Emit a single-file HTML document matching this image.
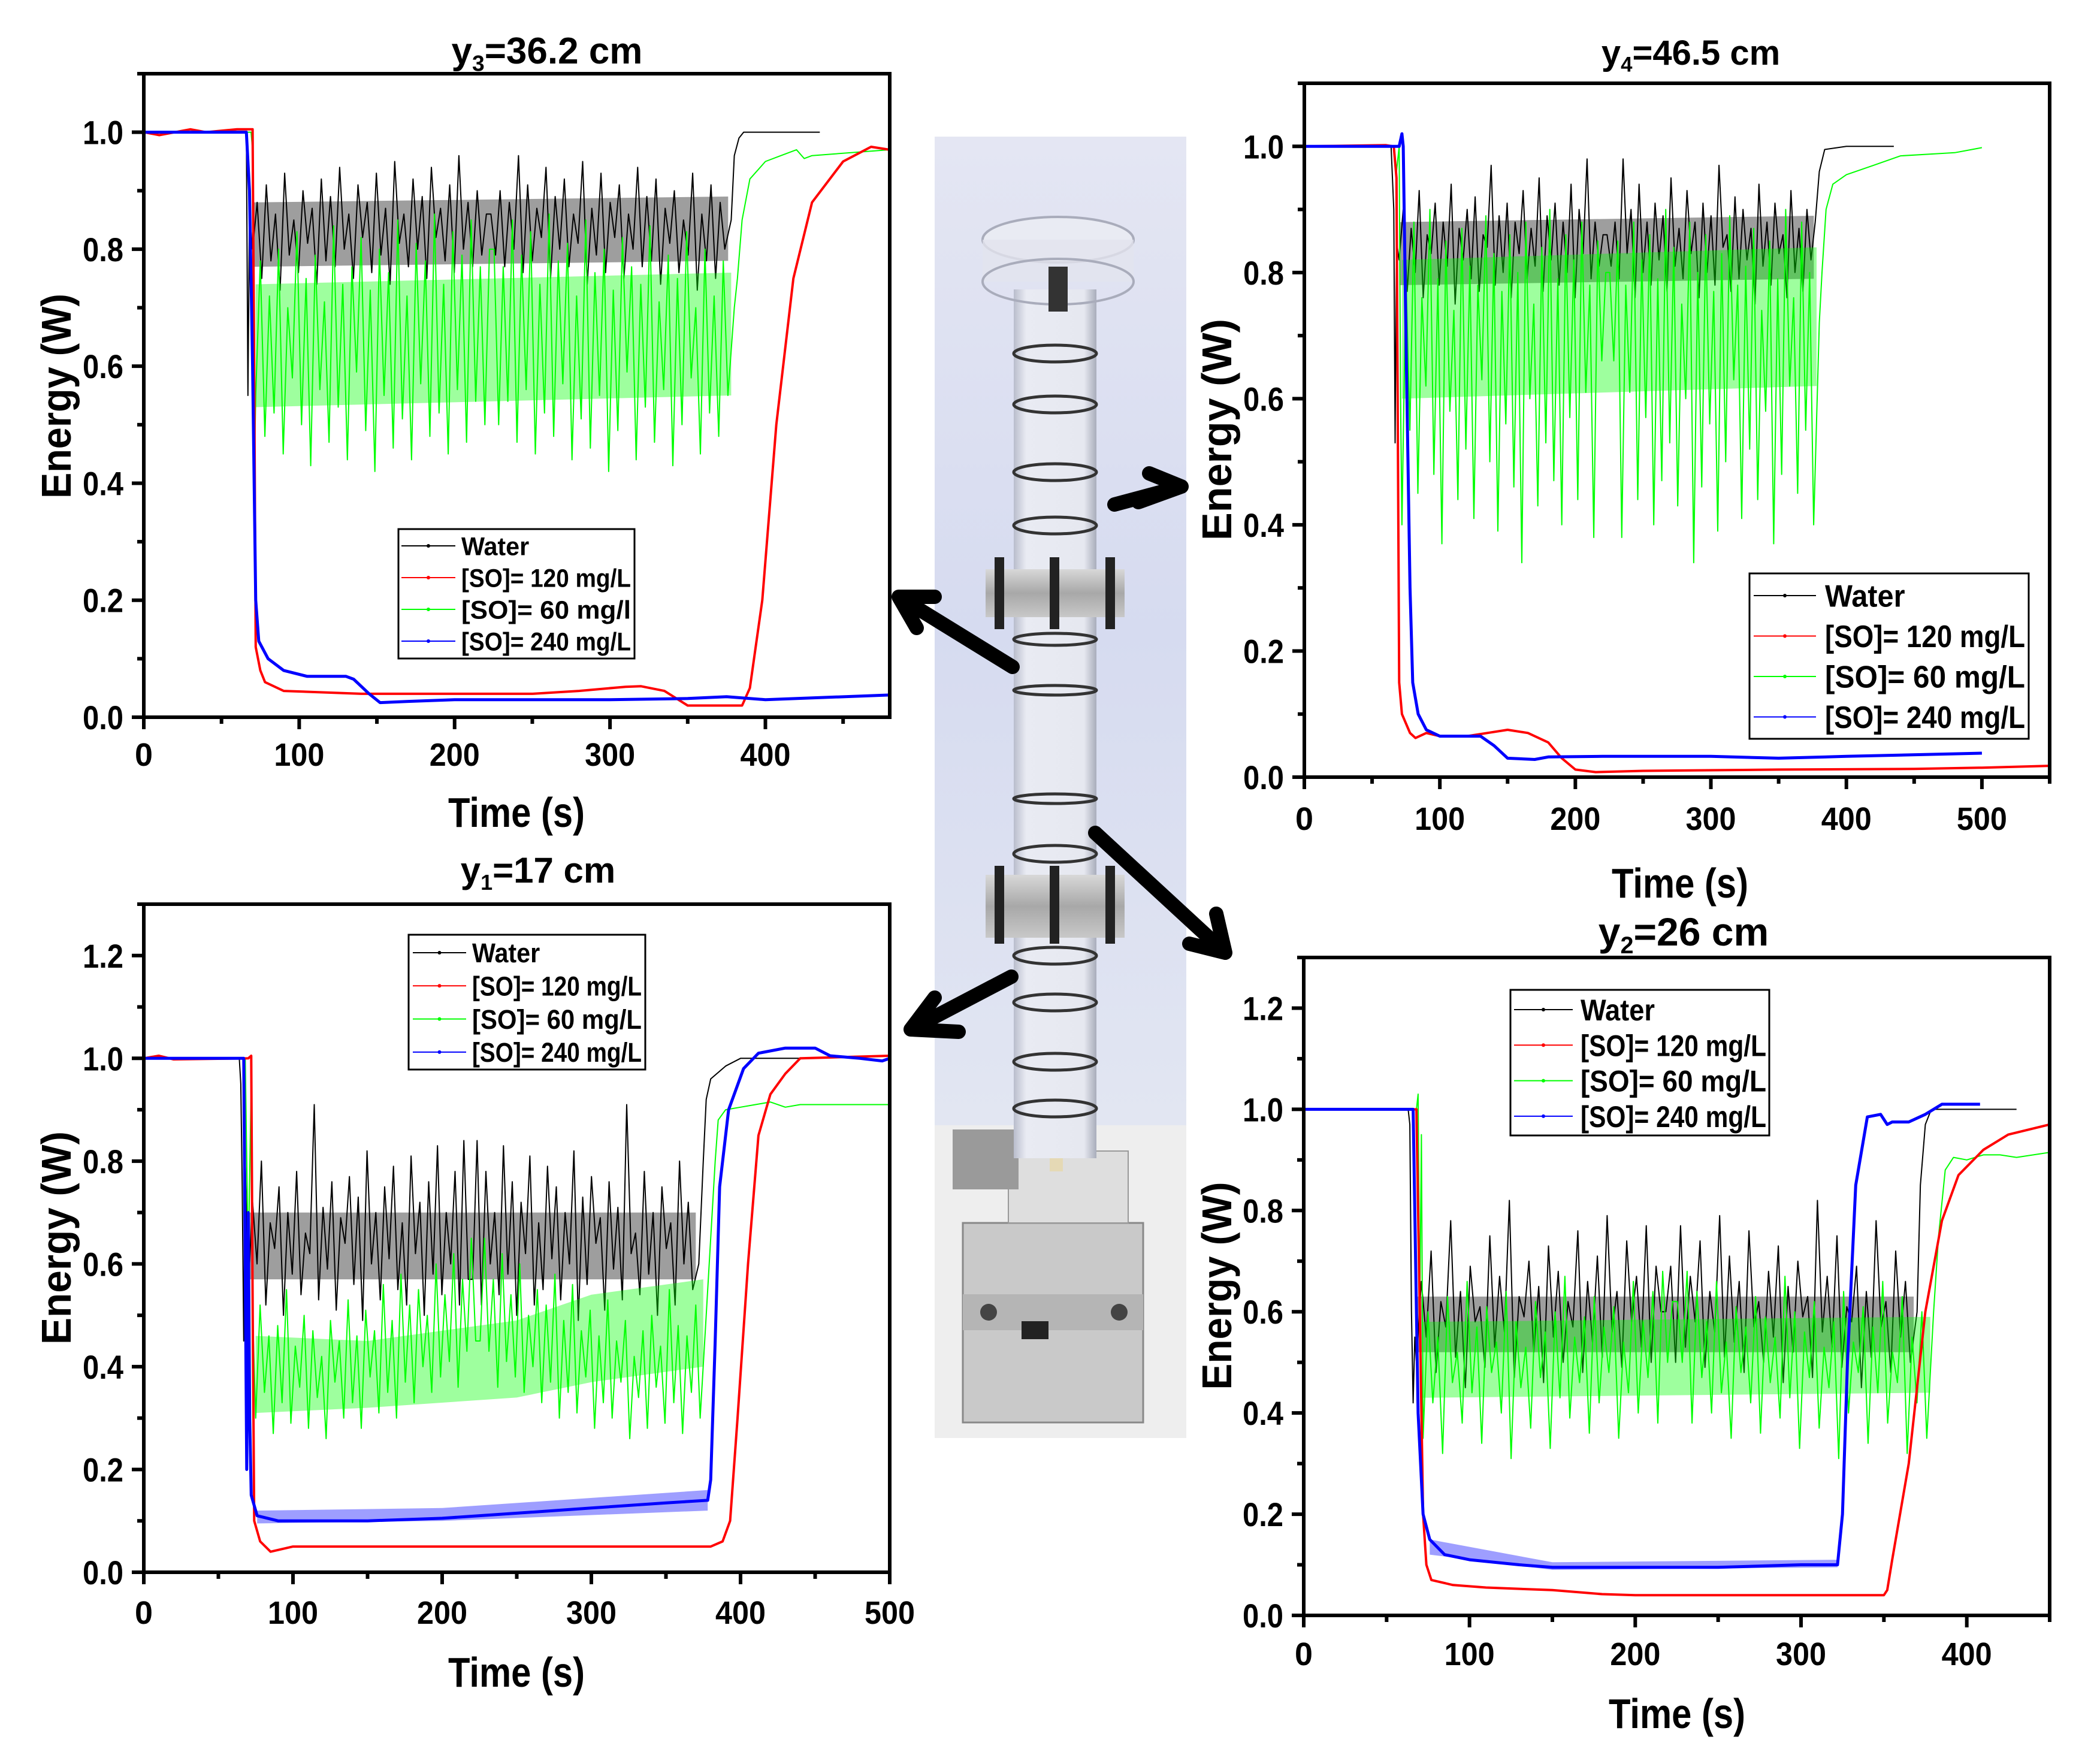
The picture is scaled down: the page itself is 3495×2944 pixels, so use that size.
<!DOCTYPE html>
<html><head><meta charset="utf-8"><title>Energy vs time at four column heights</title>
<style>
html,body{margin:0;padding:0;background:#fff;}
svg{display:block;font-family:"Liberation Sans",Arial,sans-serif;}
</style></head>
<body>
<svg id="fig" width="3495" height="2944" viewBox="0 0 3495 2944" xmlns="http://www.w3.org/2000/svg">
<defs>
<linearGradient id="bg" x1="0" y1="0" x2="0" y2="1">
<stop offset="0" stop-color="#e4e6f3"/><stop offset="0.5" stop-color="#d6dbf0"/><stop offset="1" stop-color="#e2e6f2"/>
</linearGradient>
<linearGradient id="glass" x1="0" y1="0" x2="1" y2="0">
<stop offset="0" stop-color="#b9bdcc"/><stop offset="0.15" stop-color="#e9ebf3"/><stop offset="0.85" stop-color="#e6e8f0"/><stop offset="1" stop-color="#a9adbb"/>
</linearGradient>
<linearGradient id="metal" x1="0" y1="0" x2="0" y2="1">
<stop offset="0" stop-color="#d8d8d8"/><stop offset="0.5" stop-color="#a8a8a8"/><stop offset="1" stop-color="#c8c8c8"/>
</linearGradient>
</defs>
<g id="photo">
<rect x="1560" y="228" width="420" height="1650" fill="url(#bg)"/>
<rect x="1560" y="1878" width="420" height="522" fill="#eeeeee"/>
<rect x="1607" y="2041" width="301" height="333" fill="#c9c9c9" stroke="#888" stroke-width="3"/>
<rect x="1607" y="2160" width="301" height="60" fill="#b5b5b5"/>
<circle cx="1650" cy="2190" r="14" fill="#444"/><circle cx="1868" cy="2190" r="14" fill="#444"/>
<rect x="1705" y="2205" width="45" height="30" fill="#222"/>
<rect x="1683" y="1921" width="200" height="120" fill="#dedede" stroke="#999" stroke-width="2"/>
<rect x="1590" y="1885" width="110" height="100" fill="#9a9a9a"/>
<rect x="1752" y="1905" width="22" height="50" fill="#e5d9b5"/>
<rect x="1692" y="483" width="138" height="1450" fill="url(#glass)"/>
<ellipse cx="1766" cy="400" rx="126" ry="38" fill="#e9ebf3" stroke="#a9acbb" stroke-width="4"/>
<rect x="1640" y="400" width="252" height="70" fill="#e2e4ee" opacity="0.8"/>
<ellipse cx="1766" cy="470" rx="126" ry="38" fill="none" stroke="#a9acbb" stroke-width="4"/>
<rect x="1750" y="445" width="32" height="75" fill="#333"/>
<rect x="1645" y="950" width="232" height="80" fill="url(#metal)"/>
<rect x="1645" y="1460" width="232" height="105" fill="url(#metal)"/>
<g fill="#222">
<rect x="1660" y="930" width="16" height="120"/><rect x="1752" y="930" width="16" height="120"/><rect x="1845" y="930" width="16" height="120"/>
<rect x="1660" y="1445" width="16" height="130"/><rect x="1752" y="1445" width="16" height="130"/><rect x="1845" y="1445" width="16" height="130"/>
</g>
<g fill="none" stroke="#333" stroke-width="5">
<ellipse cx="1761" cy="590" rx="69" ry="14"/><ellipse cx="1761" cy="675" rx="69" ry="14"/>
<ellipse cx="1761" cy="788" rx="69" ry="14"/><ellipse cx="1761" cy="877" rx="69" ry="14"/>
<ellipse cx="1761" cy="1067" rx="69" ry="10"/><ellipse cx="1761" cy="1152" rx="69" ry="8"/>
<ellipse cx="1761" cy="1333" rx="69" ry="8"/><ellipse cx="1761" cy="1425" rx="69" ry="14"/>
<ellipse cx="1761" cy="1595" rx="69" ry="14"/><ellipse cx="1761" cy="1673" rx="69" ry="14"/>
<ellipse cx="1761" cy="1772" rx="69" ry="14"/><ellipse cx="1761" cy="1850" rx="69" ry="14"/>
</g>
</g>
<g id="arrows" stroke="#000" stroke-width="24" fill="none" stroke-linecap="round">
<path d="M1690 1113 L1500 996 M1500 996 L1560 996 M1500 996 L1530 1048"/>
<path d="M1860 842 L1972 812 M1972 812 L1918 790 M1972 812 L1900 838"/>
<path d="M1828 1390 L2045 1590 M2045 1590 L2030 1525 M2045 1590 L1985 1575"/>
<path d="M1688 1630 L1520 1718 M1520 1718 L1560 1665 M1520 1718 L1600 1722"/>
</g>
<g id="charts"></g>
</svg>
<script>
// ---------- y3 = 36.2 cm (top-left) ----------
const tlWaterPreT=[0,30,66,67,68], tlWaterPreV=[1.0,1.0,1.0,0.55,0.86];
const tlWaterNoise=[0.80,0.88,0.75,0.91,0.78,0.86,0.73,0.93,0.79,0.85,0.76,0.90,0.81,0.87,0.74,0.92,0.78,0.89,0.77,0.94,0.80,0.86,0.75,0.91,0.82,0.88,0.76,0.93,0.79,0.87,0.74,0.95,0.81,0.86,0.77,0.92,0.80,0.89,0.75,0.94,0.82,0.87,0.78,0.91,0.76,0.96,0.80,0.88,0.77,0.90,0.79,0.86];
const tlWaterPostT=[378,380,383,386,435], tlWaterPostV=[0.85,0.96,0.99,1.0,1.0];
const tlWaterBandT=[70,376], tlWaterBandLo=[0.77,0.78], tlWaterBandHi=[0.88,0.89];
const tlRedT=[0,10,30,40,60,70,71,72,75,78,90,140,250,280,310,320,335,350,385,390,398,407,418,430,450,468,480];
const tlRedV=[1.0,0.995,1.005,1.0,1.005,1.005,0.6,0.12,0.08,0.06,0.045,0.04,0.04,0.045,0.052,0.053,0.045,0.02,0.02,0.05,0.2,0.5,0.75,0.88,0.95,0.975,0.97];
const tlGreenPreT=[0,69,70,71], tlGreenPreV=[1,1,0.97,0.4];
const tlGreenNoise=[0.55,0.78,0.48,0.72,0.52,0.80,0.45,0.70,0.58,0.83,0.50,0.75,0.43,0.79,0.56,0.71,0.47,0.84,0.53,0.74,0.44,0.77,0.59,0.82,0.49,0.73,0.42,0.80,0.55,0.76,0.46,0.85,0.51,0.72,0.44,0.81,0.57,0.78,0.48,0.86,0.52,0.74,0.45,0.83,0.56,0.79,0.47,0.85,0.54,0.77,0.50,0.80];
const tlGreenPostT=[380,382,385,390,400,410,420,425,430,480], tlGreenPostV=[0.7,0.75,0.85,0.92,0.95,0.96,0.97,0.955,0.96,0.97];
const tlGreenBandT=[72,378], tlGreenBandLo=[0.53,0.55], tlGreenBandHi=[0.74,0.76];
const tlBlueT=[0,66,68,70,72,74,80,90,105,130,135,145,152,170,200,300,350,375,400,480];
const tlBlueV=[1,1,0.9,0.6,0.2,0.13,0.1,0.08,0.07,0.07,0.065,0.04,0.025,0.027,0.03,0.03,0.032,0.035,0.03,0.038];

// ---------- y4 = 46.5 cm (top-right) ----------
const trWaterPreT=[0,64,66,67,68], trWaterPreV=[1,1,0.9,0.53,0.85];
const trWaterNoise=[0.82,0.90,0.77,0.87,0.80,0.93,0.76,0.86,0.83,0.91,0.78,0.88,0.81,0.94,0.75,0.87,0.82,0.90,0.79,0.92,0.77,0.86,0.84,0.97,0.78,0.89,0.80,0.91,0.76,0.88,0.83,0.93,0.79,0.87,0.81,0.95,0.77,0.89,0.82,0.91,0.78,0.88,0.80,0.94,0.76,0.90,0.83,0.98,0.79,0.88,0.81,0.86];
const trWaterPostT=[377,380,384,400,435], trWaterPostV=[0.88,0.96,0.995,1.0,1.0];
const trWaterBandT=[70,376], trWaterBandLo=[0.78,0.79], trWaterBandHi=[0.88,0.89];
const trGreenPreT=[0,66,68,70,71], trGreenPreV=[1,1,0.96,1.0,0.6];
const trGreenNoise=[0.40,0.80,0.55,0.88,0.45,0.76,0.62,0.90,0.48,0.79,0.37,0.85,0.58,0.74,0.44,0.87,0.52,0.81,0.41,0.78,0.63,0.89,0.50,0.83,0.39,0.77,0.56,0.86,0.46,0.80,0.34,0.88,0.60,0.75,0.43,0.84,0.53,0.90,0.47,0.79,0.40,0.86,0.57,0.82,0.44,0.88,0.61,0.78,0.38,0.85,0.66,0.80];
const trGreenPostT=[380,382,385,390,400,420,440,480,500], trGreenPostV=[0.72,0.8,0.9,0.94,0.955,0.97,0.985,0.99,0.998];
const trGreenBandT=[72,378], trGreenBandLo=[0.6,0.62], trGreenBandHi=[0.82,0.84];
const trRedT=[0,60,66,68,70,72,78,82,90,100,120,135,150,165,180,190,200,215,250,350,450,500,550];
const trRedV=[1,1.002,1,0.95,0.15,0.1,0.07,0.062,0.07,0.065,0.065,0.07,0.075,0.07,0.055,0.03,0.012,0.008,0.01,0.012,0.013,0.015,0.018];
const trBlueT=[0,68,70,72,73,75,78,80,84,90,100,130,140,150,170,180,220,300,350,400,500];
const trBlueV=[1,1,1.0,1.02,1.0,0.7,0.3,0.15,0.1,0.075,0.065,0.065,0.05,0.03,0.028,0.032,0.033,0.033,0.03,0.033,0.038];

// ---------- y1 = 17 cm (bottom-left) ----------
const blWaterPreT=[0,64,65,66,67,68], blWaterPreV=[1,1,0.95,0.75,0.45,0.8];
const blWaterNoise=[0.55,0.72,0.60,0.80,0.52,0.68,0.63,0.75,0.50,0.70,0.58,0.78,0.54,0.66,0.62,0.91,0.53,0.71,0.59,0.76,0.51,0.69,0.64,0.77,0.56,0.73,0.49,0.82,0.60,0.70,0.53,0.75,0.61,0.79,0.55,0.68,0.52,0.81,0.62,0.72,0.50,0.76,0.58,0.83,0.54,0.70,0.60,0.78,0.52,0.84,0.57];
const blWaterPostT=[372,375,377,380,390,400,440], blWaterPostV=[0.6,0.8,0.92,0.96,0.985,1.0,1.0];
const blWaterBandT=[70,370], blWaterBandLo=[0.57,0.57], blWaterBandHi=[0.70,0.70];
const blGreenPreT=[0,68,70,72,73], blGreenPreV=[1,1,0.6,0.95,0.5];
const blGreenNoise=[0.30,0.52,0.35,0.46,0.27,0.48,0.33,0.55,0.29,0.44,0.36,0.50,0.28,0.47,0.34,0.42,0.26,0.49,0.37,0.45,0.30,0.53,0.33,0.46,0.28,0.51,0.38,0.47,0.31,0.56,0.35,0.49,0.30,0.58,0.37,0.52,0.33,0.55,0.40,0.50,0.35,0.60,0.38,0.54,0.41,0.62,0.36,0.57,0.43,0.65,0.45];
const blGreenPostT=[377,380,383,385,390,400,410,420,430,440,470,500], blGreenPostV=[0.5,0.65,0.8,0.88,0.9,0.905,0.91,0.915,0.905,0.91,0.91,0.91];
const blGreenBandT=[75,150,250,300,375], blGreenBandLo=[0.31,0.32,0.34,0.37,0.40], blGreenBandHi=[0.46,0.45,0.49,0.54,0.57];
const blRedT=[0,10,20,70,72,73,74,78,85,100,200,380,388,393,398,405,412,420,430,440,500];
const blRedV=[1,1.005,0.998,1,1.005,0.5,0.1,0.06,0.04,0.05,0.05,0.05,0.06,0.1,0.3,0.6,0.85,0.93,0.97,1.0,1.005];
const blBlueT=[0,67,69,70,71,72,76,90,150,200,250,300,350,378,380,383,386,392,402,412,430,450,460,480,495,500];
const blBlueV=[1,1,0.2,0.7,0.3,0.15,0.11,0.1,0.1,0.105,0.115,0.125,0.135,0.14,0.18,0.45,0.75,0.9,0.98,1.01,1.02,1.02,1.005,1.0,0.995,1.0];
const blBlueBandT=[76,200,378], blBlueBandLo=[0.095,0.1,0.12], blBlueBandHi=[0.12,0.125,0.16];

// ---------- y2 = 26 cm (bottom-right) ----------
const brWaterPreT=[0,63,64,65,66,67], brWaterPreV=[1,1,0.97,0.6,0.42,0.55];
const brWaterNoise=[0.50,0.66,0.55,0.72,0.48,0.62,0.57,0.78,0.51,0.64,0.45,0.69,0.58,0.61,0.49,0.75,0.53,0.67,0.56,0.82,0.47,0.63,0.59,0.70,0.52,0.65,0.46,0.73,0.55,0.68,0.50,0.62,0.57,0.76,0.48,0.66,0.54,0.71,0.51,0.79,0.56,0.64,0.49,0.74,0.58,0.67,0.53,0.77,0.50,0.69,0.60];
const brWaterPostT=[370,372,375,378,380,430], brWaterPostV=[0.6,0.85,0.97,0.995,1.0,1.0];
const brWaterBandT=[68,368], brWaterBandLo=[0.52,0.52], brWaterBandHi=[0.63,0.63];
const brGreenPreT=[0,68,69,70,71], brGreenPreV=[1,1,1.03,0.6,0.95];
const brGreenNoise=[0.35,0.60,0.42,0.55,0.32,0.63,0.46,0.52,0.38,0.66,0.44,0.57,0.34,0.61,0.48,0.54,0.40,0.64,0.31,0.58,0.45,0.53,0.37,0.62,0.47,0.56,0.33,0.60,0.43,0.67,0.39,0.55,0.46,0.59,0.36,0.63,0.42,0.57,0.48,0.61,0.35,0.54,0.44,0.66,0.40,0.58,0.47,0.64,0.38,0.68,0.50,0.62];
const brGreenPostT=[380,383,387,392,400,410,420,430,450], brGreenPostV=[0.6,0.75,0.88,0.905,0.9,0.91,0.91,0.905,0.915];
const brGreenBandT=[72,378], brGreenBandLo=[0.43,0.44], brGreenBandHi=[0.58,0.59];
const brRedT=[0,68,70,72,74,77,90,110,150,180,200,350,352,355,365,375,385,395,410,425,450];
const brRedV=[1,1,0.6,0.2,0.1,0.07,0.06,0.055,0.05,0.042,0.04,0.04,0.05,0.11,0.3,0.6,0.78,0.87,0.92,0.95,0.97];
const brBlueT=[0,66,69,72,76,85,100,130,150,250,300,322,325,328,333,340,348,352,355,365,375,385,408];
const brBlueV=[1,1,0.4,0.2,0.15,0.12,0.11,0.1,0.095,0.095,0.1,0.1,0.2,0.5,0.85,0.985,0.99,0.97,0.975,0.975,0.99,1.01,1.01];
const brBlueBandT=[76,150,322], brBlueBandLo=[0.12,0.09,0.095], brBlueBandHi=[0.15,0.105,0.11];

const legendLabelsA=["Water","[SO]= 120 mg/L","[SO]= 60 mg/l","[SO]= 240 mg/L"];
const legendLabelsB=["Water","[SO]= 120 mg/L","[SO]= 60 mg/L","[SO]= 240 mg/L"];
const NOISE_STEP=2.95;

const NS="http://www.w3.org/2000/svg";
const root=document.getElementById('charts');
function mk(tag,attrs,parent){const e=document.createElementNS(NS,tag);for(const k in attrs)e.setAttribute(k,attrs[k]);(parent||root).appendChild(e);return e;}

const COL={water:"#000000",red:"#ff0000",green:"#00ff00",blue:"#0000ff"};

function plot(cfg){
  const g=mk('g',{});
  
  
  const X=t=>cfg.x0+(t-0)/(cfg.xmax)*(cfg.x1-cfg.x0);
  const Y=v=>cfg.yb-(v/cfg.ymax)*(cfg.yb-cfg.yt);
  const clip='clip-'+cfg.id;
  const cp=mk('clipPath',{id:clip},g);
  mk('rect',{x:cfg.x0,y:cfg.yt,width:cfg.x1-cfg.x0,height:cfg.yb-cfg.yt},cp);
  const dg=mk('g',{'clip-path':'url(#'+clip+')'},g);
  
  
  cfg.series.forEach(s=>{
    if(s.bandT){
      let pts=[];
      for(let i=0;i<s.bandT.length;i++)pts.push(X(s.bandT[i]).toFixed(1)+','+Y(s.bandHi[i]).toFixed(1));
      for(let i=s.bandT.length-1;i>=0;i--)pts.push(X(s.bandT[i]).toFixed(1)+','+Y(s.bandLo[i]).toFixed(1));
      const b=mk('polygon',{points:pts.join(' '),fill:COL[s.c],opacity:0.38},dg);
      
      
    }
    let T=[],V=[];
    s.parts.forEach(p=>{
      if(p.noise){const arr=p.noise.concat(p.noise.slice().reverse());arr.forEach((v,i)=>{T.push(p.start+i*NOISE_STEP);V.push(v);});}
      else{p.t.forEach((t,i)=>{T.push(t);V.push(p.v[i]);});}
    });
    const pts=T.map((t,i)=>X(t).toFixed(1)+','+Y(V[i]).toFixed(1)).join(' ');
    const l=mk('polyline',{points:pts,fill:'none',stroke:COL[s.c],'stroke-width':s.w||4,'stroke-linejoin':'round'},dg);
    
    
  });
  const fr=mk('rect',{x:cfg.x0,y:cfg.yt,width:cfg.x1-cfg.x0,height:cfg.yb-cfg.yt,fill:'none',stroke:'#000','stroke-width':6},g);
  
  
  for(let t=0;t<=cfg.xmax+0.01;t+=50){
    const major=(t%100===0);
    mk('line',{x1:X(t),x2:X(t),y1:cfg.yb,y2:cfg.yb+(major?20:11),stroke:'#000','stroke-width':6},g);
    if(major){
      const tx=mk('text',{x:X(t),y:cfg.xlabY,'font-size':54,'font-weight':'bold','text-anchor':'middle',textLength:t===0?30:84,lengthAdjust:'spacingAndGlyphs'},g);
      tx.textContent=String(t);
      
      
    }
  }
  for(let k=0;k<=Math.round(cfg.ymax*10);k++){
    const v=k/10, major=(k%2===0);
    if(v>cfg.ymax+1e-9)break;
    mk('line',{x1:cfg.x0,x2:cfg.x0-(major?20:11),y1:Y(v),y2:Y(v),stroke:'#000','stroke-width':6},g);
    if(major){
      const ty=mk('text',{x:cfg.x0-34,y:Y(v)+20,'font-size':56,'font-weight':'bold','text-anchor':'end',textLength:68,lengthAdjust:'spacingAndGlyphs'},g);
      ty.textContent=v.toFixed(1);
      
      
    }
  }
  const xt=mk('text',{x:cfg.xtX,y:cfg.xtY,'font-size':70,'font-weight':'bold','text-anchor':'middle',textLength:228,lengthAdjust:'spacingAndGlyphs'},g);
  xt.textContent='Time (s)';
  
  
  const yt=mk('text',{x:0,y:0,'font-size':70,'font-weight':'bold','text-anchor':'middle',textLength:cfg.ytLen,lengthAdjust:'spacingAndGlyphs',transform:'translate('+cfg.ytX+','+cfg.ytY+') rotate(-90)'},g);
  yt.textContent='Energy (W)';
  
  
  const tt=mk('text',{x:cfg.tX,y:cfg.tY,'font-size':cfg.tF,'font-weight':'bold','text-anchor':'middle'},g);
  
  
  const a=mk('tspan',{},tt);a.textContent='y';
  const b=mk('tspan',{'font-size':cfg.tF*0.6,dy:cfg.tF*0.2},tt);b.textContent=cfg.sub;
  const c=mk('tspan',{dy:-cfg.tF*0.2},tt);c.textContent=cfg.tRest;
  const L=cfg.leg;
  const lg=mk('g',{},g);
  
  
  mk('rect',{x:L.x,y:L.y,width:L.w,height:L.h,fill:'#fff',stroke:'#000','stroke-width':3},lg);
  const cols=['water','red','green','blue'];
  L.labels.forEach((lab,i)=>{
    const yy=L.y0+i*L.dy;
    const e=mk('g',{},lg);
    
    
    mk('line',{x1:L.lx0,x2:L.lx1,y1:yy,y2:yy,stroke:COL[cols[i]],'stroke-width':2},e);
    mk('circle',{cx:(L.lx0+L.lx1)/2,cy:yy,r:3,fill:COL[cols[i]]},e);
    const t=mk('text',{x:L.tx,y:yy+L.f*0.36,'font-size':L.f,'font-weight':'bold',textLength:(lab.length>5?L.tw:L.tw*0.4),lengthAdjust:'spacingAndGlyphs'},e);
    t.textContent=lab;
  });
}

function S(key,c,parts,band,w){const o={key,c,parts,w};if(band){o.bandT=band[0];o.bandLo=band[1];o.bandHi=band[2];}return o;}

plot({id:'tl',name:'chart-y3-36cm',x0:240,x1:1485,yt:123,yb:1197,xmax:480,ymax:1.1,xlabY:1278,
  xtX:862,xtY:1380,ytX:118,ytY:661,ytLen:342,tX:913,tY:106,tF:62,sub:'3',tRest:'=36.2 cm',
  leg:{x:665,y:883,w:394,h:216,y0:911,dy:53,lx0:670,lx1:760,tx:770,f:43,tw:283,labels:legendLabelsA},
  series:[
    S('water','water',[{t:tlWaterPreT,v:tlWaterPreV},{noise:tlWaterNoise,start:70},{t:tlWaterPostT,v:tlWaterPostV}],[tlWaterBandT,tlWaterBandLo,tlWaterBandHi],2),
    S('so-60','green',[{t:tlGreenPreT,v:tlGreenPreV},{noise:tlGreenNoise,start:72},{t:tlGreenPostT,v:tlGreenPostV}],[tlGreenBandT,tlGreenBandLo,tlGreenBandHi],2),
    S('so-120','red',[{t:tlRedT,v:tlRedV}],null,4),
    S('so-240','blue',[{t:tlBlueT,v:tlBlueV}],null,5)
  ]});

plot({id:'tr',name:'chart-y4-46cm',x0:2177,x1:3421,yt:139,yb:1297,xmax:550,ymax:1.1,xlabY:1385,
  xtX:2804,xtY:1498,ytX:2055,ytY:717,ytLen:370,tX:2822,tY:108,tF:58,sub:'4',tRest:'=46.5 cm',
  leg:{x:2920,y:957,w:466,h:276,y0:994,dy:67.5,lx0:2927,lx1:3031,tx:3046,f:52,tw:334,labels:legendLabelsB},
  series:[
    S('water','water',[{t:trWaterPreT,v:trWaterPreV},{noise:trWaterNoise,start:70},{t:trWaterPostT,v:trWaterPostV}],[trWaterBandT,trWaterBandLo,trWaterBandHi],2),
    S('so-60','green',[{t:trGreenPreT,v:trGreenPreV},{noise:trGreenNoise,start:72},{t:trGreenPostT,v:trGreenPostV}],[trGreenBandT,trGreenBandLo,trGreenBandHi],2),
    S('so-120','red',[{t:trRedT,v:trRedV}],null,4),
    S('so-240','blue',[{t:trBlueT,v:trBlueV}],null,5)
  ]});

plot({id:'bl',name:'chart-y1-17cm',x0:240,x1:1485,yt:1509,yb:2624,xmax:500,ymax:1.3,xlabY:2710,
  xtX:862,xtY:2815,ytX:118,ytY:2066,ytLen:356,tX:898,tY:1473,tF:60,sub:'1',tRest:'=17 cm',
  leg:{x:682,y:1560,w:395,h:225,y0:1590,dy:55.3,lx0:689,lx1:778,tx:788,f:45,tw:283,labels:legendLabelsB},
  series:[
    S('water','water',[{t:blWaterPreT,v:blWaterPreV},{noise:blWaterNoise,start:70},{t:blWaterPostT,v:blWaterPostV}],[blWaterBandT,blWaterBandLo,blWaterBandHi],2),
    S('so-60','green',[{t:blGreenPreT,v:blGreenPreV},{noise:blGreenNoise,start:75},{t:blGreenPostT,v:blGreenPostV}],[blGreenBandT,blGreenBandLo,blGreenBandHi],2),
    S('so-120','red',[{t:blRedT,v:blRedV}],null,4),
    S('so-240','blue',[{t:blBlueT,v:blBlueV}],[blBlueBandT,blBlueBandLo,blBlueBandHi],5)
  ]});

plot({id:'br',name:'chart-y2-26cm',x0:2176,x1:3421,yt:1598,yb:2696,xmax:450,ymax:1.3,xlabY:2779,
  xtX:2799,xtY:2884,ytX:2055,ytY:2146,ytLen:347,tX:2810,tY:1578,tF:66,sub:'2',tRest:'=26 cm',
  leg:{x:2521,y:1652,w:432,h:243,y0:1685,dy:59.3,lx0:2527,lx1:2625,tx:2638,f:50,tw:310,labels:legendLabelsB},
  series:[
    S('water','water',[{t:brWaterPreT,v:brWaterPreV},{noise:brWaterNoise,start:68},{t:brWaterPostT,v:brWaterPostV}],[brWaterBandT,brWaterBandLo,brWaterBandHi],2),
    S('so-60','green',[{t:brGreenPreT,v:brGreenPreV},{noise:brGreenNoise,start:72},{t:brGreenPostT,v:brGreenPostV}],[brGreenBandT,brGreenBandLo,brGreenBandHi],2),
    S('so-120','red',[{t:brRedT,v:brRedV}],null,4),
    S('so-240','blue',[{t:brBlueT,v:brBlueV}],[brBlueBandT,brBlueBandLo,brBlueBandHi],5)
  ]});
</script>
</body></html>
